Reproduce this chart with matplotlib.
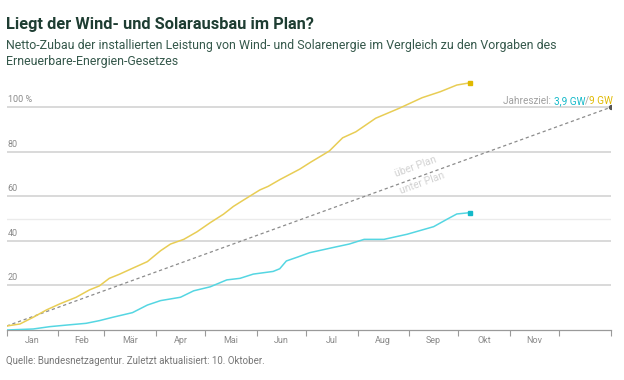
import matplotlib.pyplot as plt

# day of year -> percent of annual target
solar_days = [0, 8, 16, 24, 32, 42, 50, 56, 62, 68, 76, 85, 93, 99, 107, 115, 123,
              131, 137, 143, 153, 158, 165, 177, 184, 191, 195, 203, 211, 223, 237,
              251, 262, 272, 280]
solar_vals = [1.8, 2.7, 5.7, 9.0, 11.7, 14.7, 18.0, 19.8, 23.2, 25.0, 27.7, 30.7,
              35.6, 38.6, 40.7, 44.1, 48.2, 52.0, 55.5, 58.3, 62.9, 64.5, 67.5, 72.2,
              75.5, 78.6, 80.4, 86.3, 89.0, 95.1, 99.5, 104.3, 107.0, 110.0, 111.0]

wind_days = [0, 16, 26, 36, 48, 56, 64, 76, 85, 93, 105, 113, 123, 133, 141, 149,
             161, 165, 169, 176, 183, 197, 207, 216, 228, 242, 258, 266, 272, 280]
wind_vals = [0, 0.45, 1.5, 2.2, 3.0, 4.2, 5.7, 7.8, 11.2, 13.2, 14.7, 17.6, 19.4,
             22.5, 23.2, 25.1, 26.3, 27.5, 31.0, 32.8, 34.7, 37.0, 38.6, 40.7, 40.7,
             43.0, 46.4, 49.7, 52.1, 52.7]

plan_days = [0, 365]
plan_vals = [1.8, 100]

month_starts = [0, 31, 59, 90, 120, 151, 181, 212, 243, 273, 304, 334, 365]
month_names = ['Jan', 'Feb', 'Mär', 'Apr', 'Mai', 'Jun', 'Jul', 'Aug', 'Sep', 'Okt', 'Nov']
y_ticks = [20, 40, 60, 80, 100]

YELLOW = '#e8cd55'
YELLOW_DOT = '#e0b900'
CYAN = '#55d6e2'
CYAN_DOT = '#14b9c9'
GREEN = '#1e3d32'
GREY = '#8a8a8a'

plt.rcParams['font.family'] = ['Roboto', 'DejaVu Sans']

fig = plt.figure(figsize=(6.24, 3.80), dpi=100)
ax = fig.add_axes([6.7 / 624, 50 / 380, 604 / 624, 256.1 / 380])
ax.set_xlim(0, 365)
ax.set_ylim(0, 115)

# grid
for v in y_ticks:
    ax.axhline(v, color='#d0d0d0', lw=1.1, zorder=1)
    label = '100 %' if v == 100 else str(v)
    ax.text(0.5, v + 1.4, label, fontsize=6.5, color=GREY, ha='left', va='bottom')
ax.axhline(50, color='#ebebeb', lw=1.0, zorder=1)

ax.plot(plan_days, plan_vals, color='#8c8c8c', lw=0.9, ls=(0, (2.6, 2.2)), zorder=2)
ax.plot(plan_days[-1], plan_vals[-1], 'o', color='#555555', ms=2.8, zorder=3)
ax.plot(solar_days, solar_vals, color=YELLOW, lw=1.1, zorder=3)
ax.plot(solar_days[-1], solar_vals[-1], 's', color=YELLOW_DOT, ms=2.2, zorder=4)
ax.plot(wind_days, wind_vals, color=CYAN, lw=1.1, zorder=3)
ax.plot(wind_days[-1], wind_vals[-1], 's', color=CYAN_DOT, ms=2.2, zorder=4)

ax.text(247, 73.5, 'über Plan', fontsize=7.5, color='#d2d2d2', rotation=20,
        ha='center', va='center')
ax.text(251, 66, 'unter Plan', fontsize=7.5, color='#d2d2d2', rotation=20,
        ha='center', va='center')

for s in ['top', 'right', 'left']:
    ax.spines[s].set_visible(False)
ax.spines['bottom'].set_color('#9a9a9a')
ax.spines['bottom'].set_linewidth(0.9)
ax.set_yticks([])
ax.set_xticks(month_starts)
ax.set_xticklabels([])
ax.tick_params(axis='x', length=4, color='#9a9a9a', width=0.8)
for i, name in enumerate(month_names):
    mid = (month_starts[i] + month_starts[i + 1]) / 2
    ax.text(mid, -2.5, name, fontsize=6.5, color=GREY, ha='center', va='top')

# Jahresziel label, built right to left
fig.canvas.draw()
renderer = fig.canvas.get_renderer()
parts = [('9 GW', YELLOW_DOT), ('/', '#a0a0a0'), ('3,9 GW', CYAN_DOT), ('Jahresziel: ', '#a0a0a0')]
x_px = 613
y_px = 380 - 101
for txt, col in parts:
    t = fig.text(x_px / 624, y_px / 380, txt, fontsize=7.2, color=col, ha='right', va='center')
    bb = t.get_window_extent(renderer)
    x_px = bb.x0

fig.text(6 / 624, 1 - 24 / 380, 'Liegt der Wind- und Solarausbau im Plan?', fontsize=11.8,
         fontweight='bold', color=GREEN, ha='left', va='center')
fig.text(6 / 624, 1 - 45 / 380,
         'Netto-Zubau der installierten Leistung von Wind- und Solarenergie im Vergleich zu den Vorgaben des',
         fontsize=8.9, color='#35584b', ha='left', va='center')
fig.text(6 / 624, 1 - 62 / 380, 'Erneuerbare-Energien-Gesetzes', fontsize=8.9, color='#35584b',
         ha='left', va='center')
fig.text(6 / 624, 1 - 361 / 380,
         'Quelle: Bundesnetzagentur. Zuletzt aktualisiert: 10. Oktober.',
         fontsize=7, color='#777777', ha='left', va='center')

fig.savefig('out.png', dpi=100)
